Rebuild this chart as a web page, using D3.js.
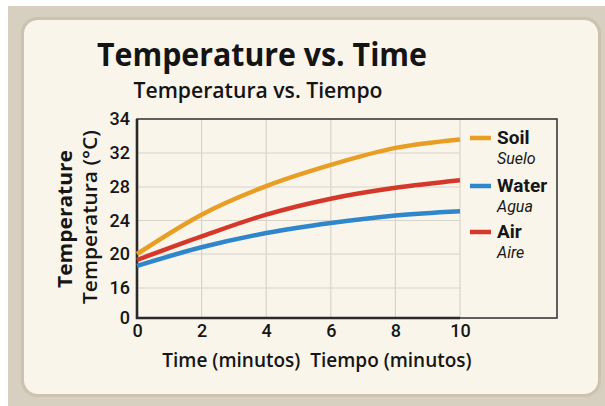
<!DOCTYPE html>
<html>
<head>
<meta charset="utf-8">
<script src="https://cdn.jsdelivr.net/npm/d3@7"></script>
<style>
 body { margin:0; background:#ffffff; }
</style>
</head>
<body>
<script>
 // data
 var times = [0, 2, 4, 6, 8, 10];
 var soil  = [20.0, 24.7, 28.1, 30.6, 32.3, 32.8];
 var water = [18.6, 20.8, 22.5, 23.7, 24.6, 25.1];
 var air   = [19.3, 22.1, 24.7, 26.6, 27.9, 28.8];
 var yTicks = [0, 16, 20, 24, 28, 32, 34];
 var xTicks = [0, 2, 4, 6, 8, 10];
 var seriesNames = ["Soil", "Water", "Air"];
 var seriesNamesEs = ["Suelo", "Agua", "Aire"];
 var seriesColors = ["#e89e25", "#2f86cb", "#d4382b"];
 var seriesData = [soil, water, air];

 var openSans = "'Open Sans', 'Noto Sans', sans-serif";
 var roboto = "Roboto, sans-serif";

 var svg = d3.select("body").append("svg")
     .attr("width", 605)
     .attr("height", 406);

 // background + card
 svg.append("rect").attr("x", 8).attr("y", 6).attr("width", 597).attr("height", 400)
    .attr("fill", "#d7d0c1");
 svg.append("rect").attr("x", 21).attr("y", 17).attr("width", 580).attr("height", 380)
    .attr("rx", 16).attr("fill", "#cbc2b0");
 svg.append("rect").attr("x", 24).attr("y", 20).attr("width", 574).attr("height", 374)
    .attr("rx", 14).attr("fill", "#f9f5eb");

 // scales (the y axis is broken, so piecewise)
 var x = d3.scaleLinear().domain([0, 10]).range([137, 460]);
 var y = d3.scaleLinear().domain(yTicks).range([318, 288, 254, 220.5, 187, 153, 119]);

 // grid
 svg.append("g").selectAll("line").data(xTicks.slice(1)).enter().append("line")
    .attr("x1", function(d){ return x(d); }).attr("x2", function(d){ return x(d); })
    .attr("y1", 119).attr("y2", 318)
    .attr("stroke", "#d9d4ca").attr("stroke-width", 1.2);
 svg.append("g").selectAll("line").data(yTicks.slice(1, -1)).enter().append("line")
    .attr("x1", 137).attr("x2", 460)
    .attr("y1", function(d){ return y(d); }).attr("y2", function(d){ return y(d); })
    .attr("stroke", "#d9d4ca").attr("stroke-width", 1.2);

 // frame
 svg.append("rect").attr("x", 137).attr("y", 119).attr("width", 420).attr("height", 199)
    .attr("fill", "none").attr("stroke", "#3a3a3a").attr("stroke-width", 1.6);
 svg.append("path").attr("d", "M137,119V318H460")
    .attr("fill", "none").attr("stroke", "#2a2a2a").attr("stroke-width", 2.6);

 // axes
 var yAxis = svg.append("g").attr("transform", "translate(137,0)")
    .call(d3.axisLeft(y).tickValues(yTicks).tickSize(0).tickPadding(7));
 yAxis.select(".domain").remove();
 yAxis.selectAll("text").style("font-size", "18px").style("font-weight", 500)
    .style("font-family", roboto).attr("fill", "#161616");

 var xAxis = svg.append("g").attr("transform", "translate(0,318)")
    .call(d3.axisBottom(x).tickValues(xTicks).tickSize(0).tickPadding(6));
 xAxis.select(".domain").remove();
 xAxis.selectAll("text").style("font-size", "18px").style("font-weight", 500)
    .style("font-family", roboto).attr("fill", "#161616");

 // lines
 var line = d3.line()
    .x(function(d, i){ return x(times[i]); })
    .y(function(d){ return y(d); })
    .curve(d3.curveMonotoneX);

 svg.append("g").selectAll("path").data(seriesData).enter().append("path")
    .attr("d", line)
    .attr("fill", "none")
    .attr("stroke", function(d, i){ return seriesColors[i]; })
    .attr("stroke-width", 4.5)
    .attr("stroke-linecap", "butt");

 // legend
 var legend = svg.append("g").selectAll("g").data(seriesNames).enter().append("g")
    .attr("transform", function(d, i){ return "translate(470," + [138, 186, 232][i] + ")"; });
 legend.append("line").attr("x1", 0).attr("x2", 21).attr("y1", 0).attr("y2", 0)
    .attr("stroke", function(d, i){ return seriesColors[i]; }).attr("stroke-width", 4.5);
 legend.append("text").attr("x", 27).attr("y", 6)
    .style("font-family", roboto).style("font-size", "19px").style("font-weight", 700)
    .attr("fill", "#161616").text(function(d){ return d; });
 legend.append("text").attr("x", 27).attr("y", 26)
    .style("font-family", roboto).style("font-size", "16px").style("font-style", "italic")
    .attr("fill", "#161616").text(function(d, i){ return seriesNamesEs[i]; });

 // titles
 svg.append("text").attr("x", 262).attr("y", 66).attr("text-anchor", "middle")
    .style("font-family", openSans).style("font-size", "33px").style("font-weight", 700)
    .attr("fill", "#141414")
    .attr("textLength", 330).attr("lengthAdjust", "spacingAndGlyphs")
    .text("Temperature vs. Time");
 svg.append("text").attr("x", 258).attr("y", 98).attr("text-anchor", "middle")
    .style("font-family", openSans).style("font-size", "21px").style("font-weight", 600)
    .attr("fill", "#141414")
    .attr("textLength", 249).attr("lengthAdjust", "spacingAndGlyphs")
    .text("Temperatura vs. Tiempo");

 svg.append("text").attr("transform", "translate(72,219) rotate(-90)").attr("text-anchor", "middle")
    .style("font-family", openSans).style("font-size", "20px").style("font-weight", 700)
    .attr("fill", "#161616")
    .attr("textLength", 138).attr("lengthAdjust", "spacingAndGlyphs")
    .text("Temperature");
 svg.append("text").attr("transform", "translate(97,217) rotate(-90)").attr("text-anchor", "middle")
    .style("font-family", openSans).style("font-size", "19px").style("font-weight", 600)
    .attr("fill", "#161616")
    .attr("textLength", 174).attr("lengthAdjust", "spacingAndGlyphs")
    .text("Temperatura (°C)");

 svg.append("text").attr("x", 317).attr("y", 367).attr("text-anchor", "middle")
    .style("font-family", openSans).style("font-size", "19px").style("font-weight", 600)
    .attr("fill", "#161616").attr("xml:space", "preserve")
    .text("Time (minutos)  Tiempo (minutos)");
</script>
</body>
</html>
